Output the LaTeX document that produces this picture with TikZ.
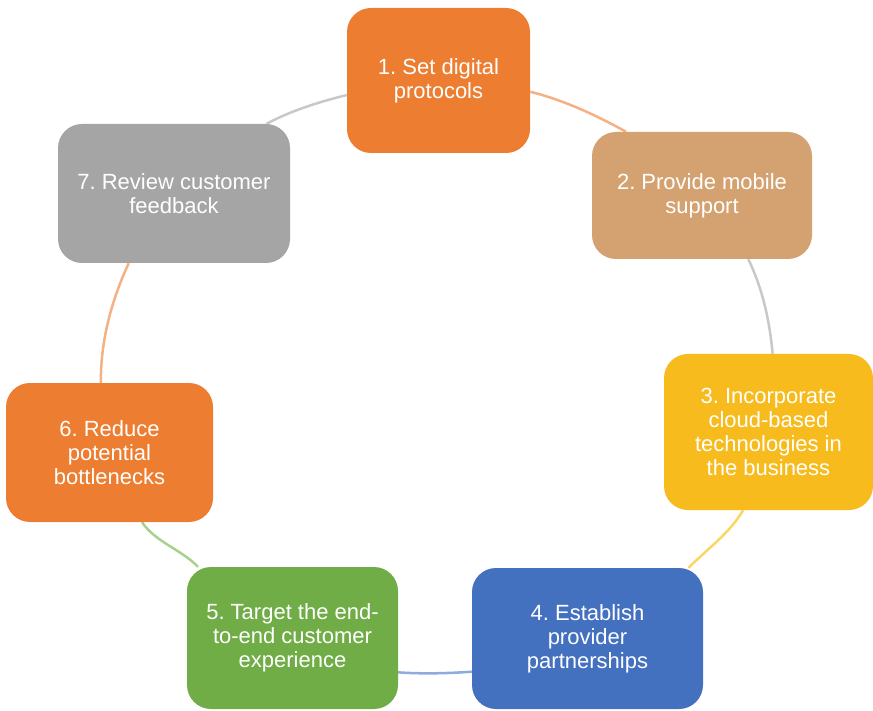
\documentclass[tikz,border=0pt]{standalone}
\usepackage{fontspec}
\setmainfont{Liberation Sans}
\usetikzlibrary{backgrounds}
\frenchspacing
\definecolor{c1}{RGB}{237,125,49}
\definecolor{c2}{RGB}{212,162,112}
\definecolor{c3}{RGB}{247,187,30}
\definecolor{c4}{RGB}{68,112,192}
\definecolor{c5}{RGB}{112,173,71}
\definecolor{c6}{RGB}{237,125,49}
\definecolor{c7}{RGB}{165,165,165}
\definecolor{a1}{RGB}{244,177,131}
\definecolor{a2}{RGB}{200,200,200}
\definecolor{a3}{RGB}{252,214,100}
\definecolor{a4}{RGB}{143,170,220}
\definecolor{a5}{RGB}{169,209,142}
\definecolor{a6}{RGB}{244,177,131}
\definecolor{a7}{RGB}{200,200,200}
\begin{document}
\frenchspacing
\begin{tikzpicture}[x=1pt,y=1pt,
  stepbox/.style={rectangle, rounded corners=24pt, inner sep=0pt, align=center,
    text=white, font=\fontsize{22}{24}\selectfont\frenchspacing},
  link/.style={line width=2.5pt, looseness=0.85}]
\useasboundingbox (0,0) rectangle (873,-711);
\node[stepbox, fill=c1, minimum width=183pt, minimum height=145pt] (n1) at (438.5,-80.5) {1. Set digital\\protocols};
\node[stepbox, fill=c2, minimum width=220pt, minimum height=127pt] (n2) at (702,-195.5) {2. Provide mobile\\support};
\node[stepbox, fill=c3, minimum width=209pt, minimum height=156pt] (n3) at (768.5,-432) {3. Incorporate\\cloud-based\\technologies in\\the business};
\node[stepbox, fill=c4, minimum width=231pt, minimum height=141pt] (n4) at (587.5,-638.5) {4. Establish\\provider\\partnerships};
\node[stepbox, fill=c5, minimum width=211pt, minimum height=142pt] (n5) at (292.5,-638) {5. Target the end-\\to-end customer\\experience};
\node[stepbox, fill=c6, minimum width=207pt, minimum height=139pt] (n6) at (109.5,-452.5) {6. Reduce\\potential\\bottlenecks};
\node[stepbox, fill=c7, minimum width=232pt, minimum height=139pt] (n7) at (174,-193.5) {7. Review customer\\feedback};
\begin{scope}[on background layer]
\draw[link, a1] (n1.-7) to[out=-14, in=151] (n2.140);
\draw[link, a2] (n2.-54) to[out=-64, in=95] (n3.87);
\draw[link, a3] (n3.-108) to[out=-120, in=45] (n4.35);
\draw[link, a4] (n4.196) to[out=184, in=-4] (n5.-18);
\draw[link, a5] (n5.143) to[out=134, in=-56] (n6.-65);
\draw[link, a6] (n6.97) to[out=91, in=-115] (n7.-123);
\draw[link, a7] (n7.37) to[out=28, in=194] (n1.189);
\end{scope}
\end{tikzpicture}
\end{document}
